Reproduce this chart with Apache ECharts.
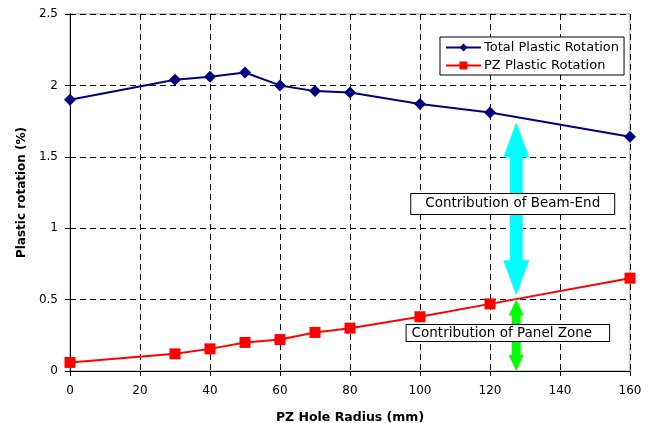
<!DOCTYPE html>
<html>
<head>
<meta charset="utf-8">
<script src="https://cdn.jsdelivr.net/npm/echarts@6/dist/echarts.min.js"></script>
<style>
  html, body { margin: 0; padding: 0; background: #fff; }
  #chart { width: 655px; height: 423px; }
</style>
</head>
<body>
<div id="chart"></div>
<script>
// PZ hole radius (mm)
const radius = [0, 30, 40, 50, 60, 70, 80, 100, 120, 160];
// Plastic rotation (%)
const totalRotation = [1.90, 2.04, 2.06, 2.09, 2.00, 1.96, 1.95, 1.87, 1.81, 1.64];
const pzRotation = [0.06, 0.12, 0.155, 0.20, 0.22, 0.27, 0.30, 0.38, 0.47, 0.65];

// Annotation: contributions split at a given radius
const splitRadius = 127.5;
const beamEndTop = 1.74;
const beamEndBottom = 0.53;
const splitLevel = 0.5;
const beamEndLabel = [126.5, 1.17];
const panelZoneLabel = [125.1, 0.266];

const FONT = '"DejaVu Sans", "Liberation Sans", Arial, sans-serif';

function pair(xs, ys) { return xs.map((x, i) => [x, ys[i]]); }

// Double-headed vertical arrow between two data points
function doubleArrow(api, x, yTop, yBot, shaftW, headW, headL, color) {
  const top = api.coord([x, yTop]);
  const bot = api.coord([x, yBot]);
  const cx = top[0];
  const t = top[1], b = bot[1];
  const pts = [
    [cx, t],
    [cx + headW / 2, t + headL],
    [cx + shaftW / 2, t + headL],
    [cx + shaftW / 2, b - headL],
    [cx + headW / 2, b - headL],
    [cx, b],
    [cx - headW / 2, b - headL],
    [cx - shaftW / 2, b - headL],
    [cx - shaftW / 2, t + headL],
    [cx - headW / 2, t + headL]
  ];
  return { type: 'polygon', shape: { points: pts }, style: { fill: color } };
}

function labelBox(api, at, text, padding) {
  const p = api.coord(at);
  return {
    type: 'text',
    x: p[0], y: p[1],
    style: {
      text: text,
      font: '13.5px ' + FONT,
      fill: '#000',
      align: 'center',
      verticalAlign: 'middle',
      backgroundColor: '#fff',
      borderColor: '#000',
      borderWidth: 1,
      padding: padding
    }
  };
}

const chart = echarts.init(document.getElementById('chart'));
chart.setOption({
  animation: false,
  backgroundColor: '#fff',
  textStyle: { fontFamily: FONT },
  grid: {
    left: 70, right: 25, top: 14, bottom: 52,
    outerBoundsMode: 'none',
    containLabel: false,
    show: true, borderColor: '#999', borderWidth: 1, backgroundColor: 'transparent'
  },
  legend: {
    data: ['Total Plastic Rotation', 'PZ Plastic Rotation'],
    orient: 'vertical',
    left: 440, top: 37,
    backgroundColor: '#fff',
    borderColor: '#000',
    borderWidth: 1,
    borderRadius: 0,
    padding: [4, 5, 3, 5],
    itemGap: 5,
    itemWidth: 35, itemHeight: 10,
    textStyle: { fontFamily: FONT, fontSize: 13, color: '#000', padding: [0, 0, 0, -2] }
  },
  xAxis: {
    type: 'value',
    min: 0, max: 160, interval: 20,
    name: 'PZ Hole Radius (mm)',
    nameLocation: 'middle',
    nameGap: 40,
    nameTextStyle: { fontFamily: FONT, fontSize: 12.5, fontWeight: 'bold', color: '#000' },
    axisLine: { lineStyle: { color: '#000', width: 1 } },
    axisTick: { show: true, length: 5, lineStyle: { color: '#000' } },
    axisLabel: { fontFamily: FONT, fontSize: 12, color: '#000', margin: 14 },
    splitLine: { show: true, lineStyle: { color: '#000', type: [6, 4], width: 1 } }
  },
  yAxis: {
    type: 'value',
    min: 0, max: 2.5, interval: 0.5,
    name: 'Plastic rotation (%)',
    nameLocation: 'middle',
    nameGap: 41,
    nameTextStyle: { fontFamily: FONT, fontSize: 12, fontWeight: 'bold', color: '#000' },
    axisLine: { show: true, lineStyle: { color: '#000', width: 1 } },
    axisTick: { show: true, length: 5, lineStyle: { color: '#000' } },
    axisLabel: { fontFamily: FONT, fontSize: 12, color: '#000', margin: 12 },
    splitLine: { show: true, lineStyle: { color: '#000', type: [6, 4], width: 1 } }
  },
  series: [
    {
      name: 'Total Plastic Rotation',
      type: 'line',
      data: pair(radius, totalRotation),
      color: '#000080',
      symbol: 'diamond',
      symbolSize: 12,
      lineStyle: { width: 2, color: '#000080' },
      itemStyle: { color: '#000080' },
      z: 5
    },
    {
      name: 'PZ Plastic Rotation',
      type: 'line',
      data: pair(radius, pzRotation),
      color: '#ff0000',
      symbol: 'rect',
      symbolSize: 11,
      lineStyle: { width: 2, color: '#ff0000' },
      itemStyle: { color: '#ff0000' },
      z: 5
    },
    {
      name: 'annotations',
      type: 'custom',
      data: [[splitRadius, beamEndTop]],
      z: 6,
      silent: true,
      clip: false,
      renderItem: function (params, api) {
        return {
          type: 'group',
          children: [
            doubleArrow(api, splitRadius, beamEndTop, beamEndBottom, 13, 26, 35, '#00ffff'),
            doubleArrow(api, splitRadius, splitLevel, 0, 9, 15, 16, '#00ff00'),
            labelBox(api, beamEndLabel, 'Contribution of Beam-End', [4, 14, 2, 14]),
            labelBox(api, panelZoneLabel, 'Contribution of Panel Zone', [2, 17, 0, 5])
          ]
        };
      }
    }
  ]
});
</script>
</body>
</html>
